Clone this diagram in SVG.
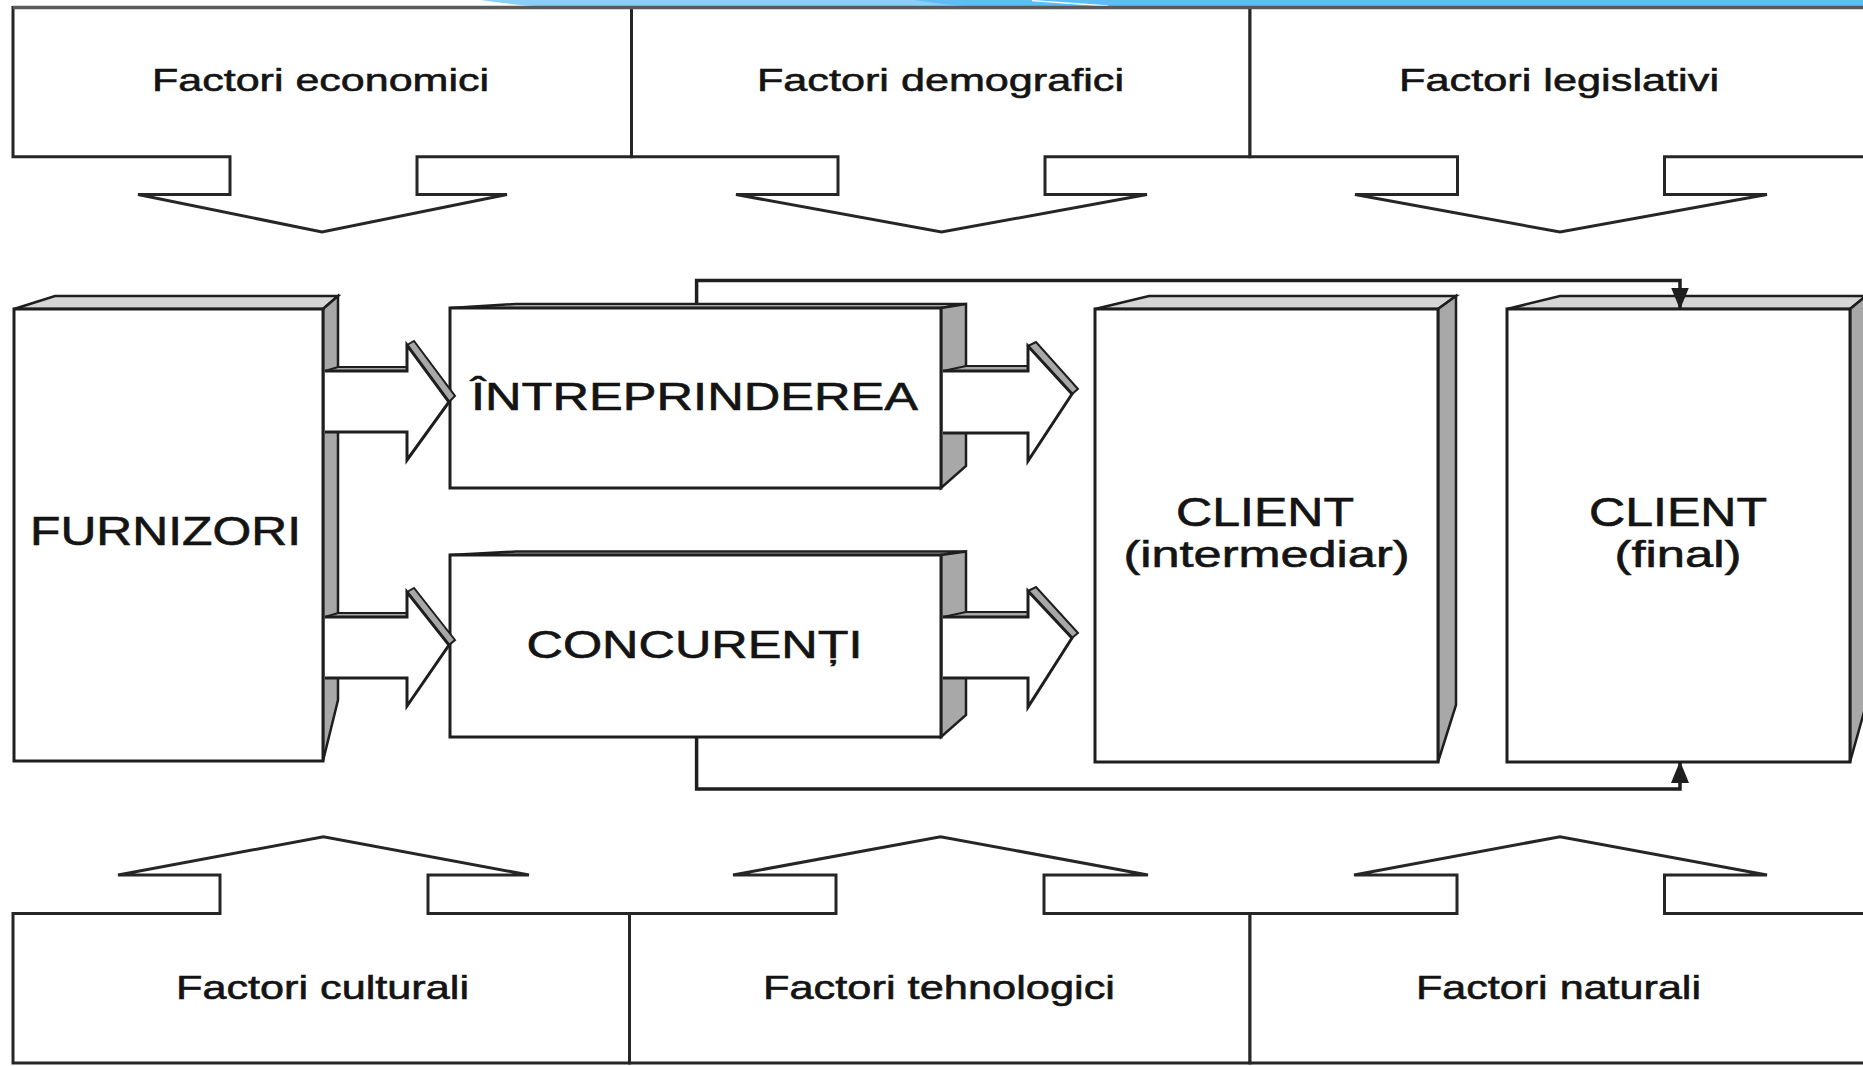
<svg xmlns="http://www.w3.org/2000/svg" width="1863" height="1066" viewBox="0 0 1863 1066">
  <defs>
    <style>
      .cell{fill:#fff;stroke:#262626;stroke-width:3;stroke-linejoin:miter}
      .face{fill:#fff;stroke:#1e1e1e;stroke-width:3;stroke-linejoin:miter}
      .topf{fill:#d6d6d6;stroke:#1e1e1e;stroke-width:2.5;stroke-linejoin:miter}
      .side{fill:#a8a8a8;stroke:#1e1e1e;stroke-width:2.5;stroke-linejoin:miter}
      .band{fill:#a8a8a8;stroke:#1e1e1e;stroke-width:2;stroke-linejoin:miter}
      .conn{fill:none;stroke:#1e1e1e;stroke-width:3.5}
      .lbl{font-family:"Liberation Sans",Arial,Helvetica,sans-serif;fill:#141414;stroke:#141414;stroke-width:0.6}
      .f{font-size:32px}
      .fb{font-size:34px}
      .big{font-size:40px}
      .mid{font-size:38px}
      .par{font-size:37px}
    </style>
    <marker id="tip" markerUnits="userSpaceOnUse" markerWidth="22" markerHeight="18" viewBox="0 0 22 18" refX="21" refY="9" orient="auto">
      <path d="M0,0 L22,9 L0,18 Z" fill="#1e1e1e"/>
    </marker>
  </defs>

  <rect width="1863" height="1066" fill="#fff"/>

  <!-- header band -->
  <g id="header-band">
    <path d="M481,0 Q505,4 540,6.5 L1863,6.5 L1863,0 Z" fill="#89cff7"/>
    <path d="M915,0 Q938,4 972,6.5 L1863,6.5 L1863,0 Z" fill="#5cbef5"/>
    <path d="M1032,0.6 L1108,6" stroke="#fff" stroke-width="1.3" fill="none"/>
  </g>

  <!-- external factors, top row -->
  <g id="factori-economici">
    <path class="cell" d="M631.5,7.5 H13 V156.7 H230 V194.5 H138 L322,232 L507,194.5 H417 V156.7 H631.5 Z"/>
    <text class="lbl f" x="152" y="91" textLength="337" lengthAdjust="spacingAndGlyphs">Factori economici</text>
  </g>
  <g id="factori-demografici">
    <path class="cell" d="M1250,7.5 H631.5 V156.7 H838 V194.5 H736 L941.5,232 L1147,194.5 H1045 V156.7 H1250 Z"/>
    <text class="lbl f" x="757" y="91" textLength="367" lengthAdjust="spacingAndGlyphs">Factori demografici</text>
  </g>
  <g id="factori-legislativi">
    <path class="cell" d="M1870,7.5 H1250 V156.7 H1457.5 V194.5 H1355 L1560,232 L1767,194.5 H1664.5 V156.7 H1870 Z"/>
    <text class="lbl f" x="1399" y="91" textLength="320" lengthAdjust="spacingAndGlyphs">Factori legislativi</text>
  </g>
  <line x1="13" y1="7.5" x2="1863" y2="7.5" stroke="#5a5a5a" stroke-width="3.5"/>

  <!-- external factors, bottom row -->
  <g id="factori-culturali">
    <path class="cell" d="M629.5,1063 H13 V913.5 H220 V875 H118 L323.5,836.7 L529,875 H428 V913.5 H629.5 Z"/>
    <text class="lbl fb" x="176" y="999" textLength="293" lengthAdjust="spacingAndGlyphs">Factori culturali</text>
  </g>
  <g id="factori-tehnologici">
    <path class="cell" d="M1250,1063 H629.5 V913.5 H836 V875 H733 L940.5,836.7 L1148,875 H1044 V913.5 H1250 Z"/>
    <text class="lbl fb" x="763" y="999" textLength="352" lengthAdjust="spacingAndGlyphs">Factori tehnologici</text>
  </g>
  <g id="factori-naturali">
    <path class="cell" d="M1870,1063 H1250 V913.5 H1457 V875 H1354 L1560,836.7 L1767,875 H1664.5 V913.5 H1870 Z"/>
    <text class="lbl fb" x="1416" y="999" textLength="285" lengthAdjust="spacingAndGlyphs">Factori naturali</text>
  </g>

  <!-- market actors -->
  <g id="furnizori">
    <polygon class="topf" points="14,309 55,296 338,296 323,309"/>
    <polygon class="side" points="323,309 338,296 338,700 323,761"/>
    <rect class="face" x="14" y="309" width="309" height="452"/>
    <text class="lbl big" x="30" y="545" textLength="271" lengthAdjust="spacingAndGlyphs">FURNIZORI</text>
  </g>

  <g id="intreprinderea">
    <polygon class="topf" points="450,308 516,304 966,304 941,308"/>
    <polygon class="side" points="941,308 966,304 966,466 941,488"/>
    <rect class="face" x="450" y="308" width="491" height="180"/>
    <text class="lbl mid" x="471" y="409.5" textLength="447" lengthAdjust="spacingAndGlyphs">ÎNTREPRINDEREA</text>
  </g>

  <g id="concurenti">
    <polygon class="topf" points="450,555 516,551.5 966,551.5 941,555"/>
    <polygon class="side" points="941,555 966,551.5 966,715 941,737"/>
    <rect class="face" x="450" y="555" width="491" height="182"/>
    <text class="lbl mid" x="526.5" y="658" textLength="336" lengthAdjust="spacingAndGlyphs">CONCURENȚI</text>
  </g>

  <g id="client-intermediar">
    <polygon class="topf" points="1095,309 1149,296 1456,296 1438,309"/>
    <polygon class="side" points="1438,309 1456,296 1456,705 1438,762"/>
    <rect class="face" x="1095" y="309" width="343" height="453"/>
    <text class="lbl big" x="1176" y="525.5" textLength="178" lengthAdjust="spacingAndGlyphs">CLIENT</text>
    <text class="lbl par" x="1123.5" y="567" textLength="286" lengthAdjust="spacingAndGlyphs">(intermediar)</text>
  </g>

  <g id="client-final">
    <polygon class="topf" points="1507,309 1560,296 1866,296 1850,309"/>
    <polygon class="side" points="1850,309 1866,296 1866,705 1850,762"/>
    <rect class="face" x="1507" y="309" width="343" height="453"/>
    <text class="lbl big" x="1589" y="525.5" textLength="178" lengthAdjust="spacingAndGlyphs">CLIENT</text>
    <text class="lbl par" x="1614.5" y="567" textLength="127" lengthAdjust="spacingAndGlyphs">(final)</text>
  </g>

  <!-- flows: block arrows and connector lines -->
  <g id="connectors">
    <g id="flow-furnizori-intreprinderea">
      <polygon class="band" points="325,371 338,367 407,367 407,371"/>
      <polygon class="band" points="407,345 414,341 455,396 449,402"/>
      <path class="face" d="M325,371 H407 V345 L449,402 L407,460 V432 H325"/>
    </g>
    <g id="flow-furnizori-concurenti">
      <polygon class="band" points="325,617 338,613 407,613 407,617"/>
      <polygon class="band" points="407,592 414,588 455,640 449,645"/>
      <path class="face" d="M325,617 H407 V592 L449,645 L407,706 V678 H325"/>
    </g>
    <g id="flow-intreprinderea-client">
      <polygon class="band" points="943,371 966,366 1028,366 1028,371"/>
      <polygon class="band" points="1028,346 1036,342 1078,389 1072,394"/>
      <path class="face" d="M943,371 H1028 V346 L1072,394 L1028,461 V433 H943"/>
    </g>
    <g id="flow-concurenti-client">
      <polygon class="band" points="943,617 966,612 1028,612 1028,617"/>
      <polygon class="band" points="1028,591 1036,587 1078,633 1072,638"/>
      <path class="face" d="M943,617 H1028 V591 L1072,638 L1028,707 V678 H943"/>
    </g>
    <path class="conn" d="M696.6,304 V280.5 H1680 V308.5" marker-end="url(#tip)"/>
    <path class="conn" d="M696.6,737 V789 H1680 V762" marker-end="url(#tip)"/>
  </g>
</svg>
